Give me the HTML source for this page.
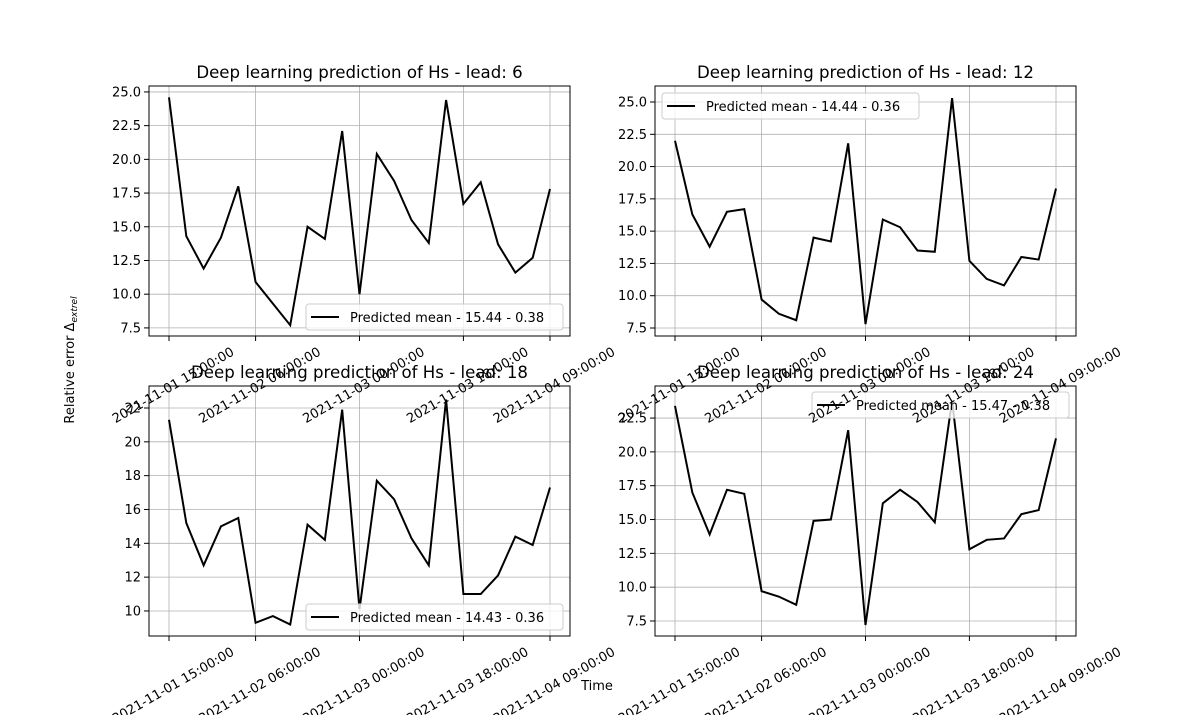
<!DOCTYPE html>
<html><head><meta charset="utf-8"><style>
body{margin:0;background:#fff;}
svg text{font-family:"DejaVu Sans","Liberation Sans",sans-serif;fill:#000;}
</style></head><body>
<svg id="c" width="1195" height="715" xmlns="http://www.w3.org/2000/svg">
<rect width="1195" height="715" fill="#fff"/>
<text x="74" y="360" font-size="13" text-anchor="middle" transform="rotate(-90 74 360)">Relative error Δ<tspan font-size="9" dy="3" font-style="italic">extrel</tspan></text>
<text x="597" y="690" font-size="13" text-anchor="middle">Time</text>
</svg>
<script>
const tickLabels = ["2021-11-01 15:00:00","2021-11-02 06:00:00","2021-11-03 00:00:00","2021-11-03 18:00:00","2021-11-04 09:00:00"];
const tickIdx = [0,5,11,17,22];
const lead6 = [24.6,14.3,11.9,14.2,18.0,10.9,9.3,7.7,15.0,14.1,22.1,10.0,20.4,18.4,15.5,13.8,24.4,16.7,18.3,13.7,11.6,12.7,17.8];
const lead12 = [22.0,16.3,13.8,16.5,16.7,9.7,8.6,8.1,14.5,14.2,21.8,7.8,15.9,15.3,13.5,13.4,25.3,12.7,11.3,10.8,13.0,12.8,18.3];
const lead18 = [21.3,15.2,12.7,15.0,15.5,9.3,9.7,9.2,15.1,14.2,21.9,10.1,17.7,16.6,14.3,12.7,22.5,11.0,11.0,12.1,14.4,13.9,17.3];
const lead24 = [23.4,17.0,13.9,17.2,16.9,9.7,9.3,8.7,14.9,15.0,21.6,7.2,16.2,17.2,16.3,14.8,23.8,12.8,13.5,13.6,15.4,15.7,21.0];
const yTicksA = [7.5,10.0,12.5,15.0,17.5,20.0,22.5,25.0];
const yTicksB = [10,12,14,16,18,20,22];
const legends = ["Predicted mean - 15.44 - 0.38","Predicted mean - 14.44 - 0.36","Predicted mean - 14.43 - 0.36","Predicted mean - 15.47 - 0.38"];
const titles = ["Deep learning prediction of Hs - lead: 6","Deep learning prediction of Hs - lead: 12","Deep learning prediction of Hs - lead: 18","Deep learning prediction of Hs - lead: 24"];
const svg=document.getElementById('c');
const NS="http://www.w3.org/2000/svg";
function mk(t,a,p){const e=document.createElementNS(NS,t);for(const k in a)e.setAttribute(k,a[k]);(p||svg).appendChild(e);return e;}
const panels=[
 {x:149,y:86,data:lead6,ymin:6.9,ymax:25.44,ticks:yTicksA,dec:1,leg:"br"},
 {x:655,y:86,data:lead12,ymin:6.88,ymax:26.24,ticks:yTicksA,dec:1,leg:"tl"},
 {x:149,y:386,data:lead18,ymin:8.52,ymax:23.3,ticks:yTicksB,dec:0,leg:"br"},
 {x:655,y:386,data:lead24,ymin:6.39,ymax:24.87,ticks:yTicksA,dec:1,leg:"tr"}];
const W=421,H=250;
const labels=[];
panels.forEach((p,i)=>{
 const g=mk('g',{});
 
 
 const n=p.data.length;
 const xs=k=>p.x+20+k*(W-40)/(n-1);
 const ys=v=>p.y+H-(v-p.ymin)/(p.ymax-p.ymin)*H;
 tickIdx.forEach((k,j)=>{
  const X=xs(k);
  const gl=mk('line',{x1:X,x2:X,y1:p.y,y2:p.y+H,stroke:'#b0b0b0','stroke-width':0.8},g);
  
  mk('line',{x1:X,x2:X,y1:p.y+H,y2:p.y+H+5,stroke:'#000'},g);
  labels.push({X:X+4,cy:p.y+H+49,txt:tickLabels[j]});
 });
 p.ticks.filter(v=>v>=p.ymin&&v<=p.ymax).forEach(v=>{
  const Y=ys(v);
  const gl=mk('line',{x1:p.x,x2:p.x+W,y1:Y,y2:Y,stroke:'#b0b0b0','stroke-width':0.8},g);
  
  mk('line',{x1:p.x-5,x2:p.x,y1:Y,y2:Y,stroke:'#000'},g);
  const t=mk('text',{x:p.x-8,y:Y+4.5,'font-size':13,'text-anchor':'end'},g);
  t.textContent=v.toFixed(p.dec);
  
 });
 const line=mk('polyline',{points:p.data.map((v,k)=>xs(k)+','+ys(v)).join(' '),fill:'none',stroke:'#000','stroke-width':2},g);
 
 mk('rect',{x:p.x,y:p.y,width:W,height:H,fill:'none',stroke:'#000','stroke-width':1},g);
 const tt=mk('text',{x:p.x+W/2,y:p.y-8,'font-size':16.6,'text-anchor':'middle'},g);
 tt.textContent=titles[i];
 
 const lw=257,lh=26;
 let lx,ly;
 if(p.leg==='br'){lx=p.x+W-7-lw;ly=p.y+H-6-lh;}
 else if(p.leg==='tl'){lx=p.x+7;ly=p.y+7;}
 else {lx=p.x+W-7-lw;ly=p.y+6;}
 const lg=mk('g',{},g);
 
 mk('rect',{x:lx,y:ly,width:lw,height:lh,rx:3,fill:'#fff','fill-opacity':0.8,stroke:'#ccc'},lg);
 mk('line',{x1:lx+5,x2:lx+33,y1:ly+13,y2:ly+13,stroke:'#000','stroke-width':2},lg);
 const lt=mk('text',{x:lx+44,y:ly+18,'font-size':13},lg);
 lt.textContent=legends[i];
 
});
labels.forEach(l=>{
  const t=mk('text',{x:l.X,y:l.cy+4.5,'font-size':13,'text-anchor':'middle',transform:`rotate(-30 ${l.X} ${l.cy})`});
  t.textContent=l.txt;
  
});
</script>
</body></html>
